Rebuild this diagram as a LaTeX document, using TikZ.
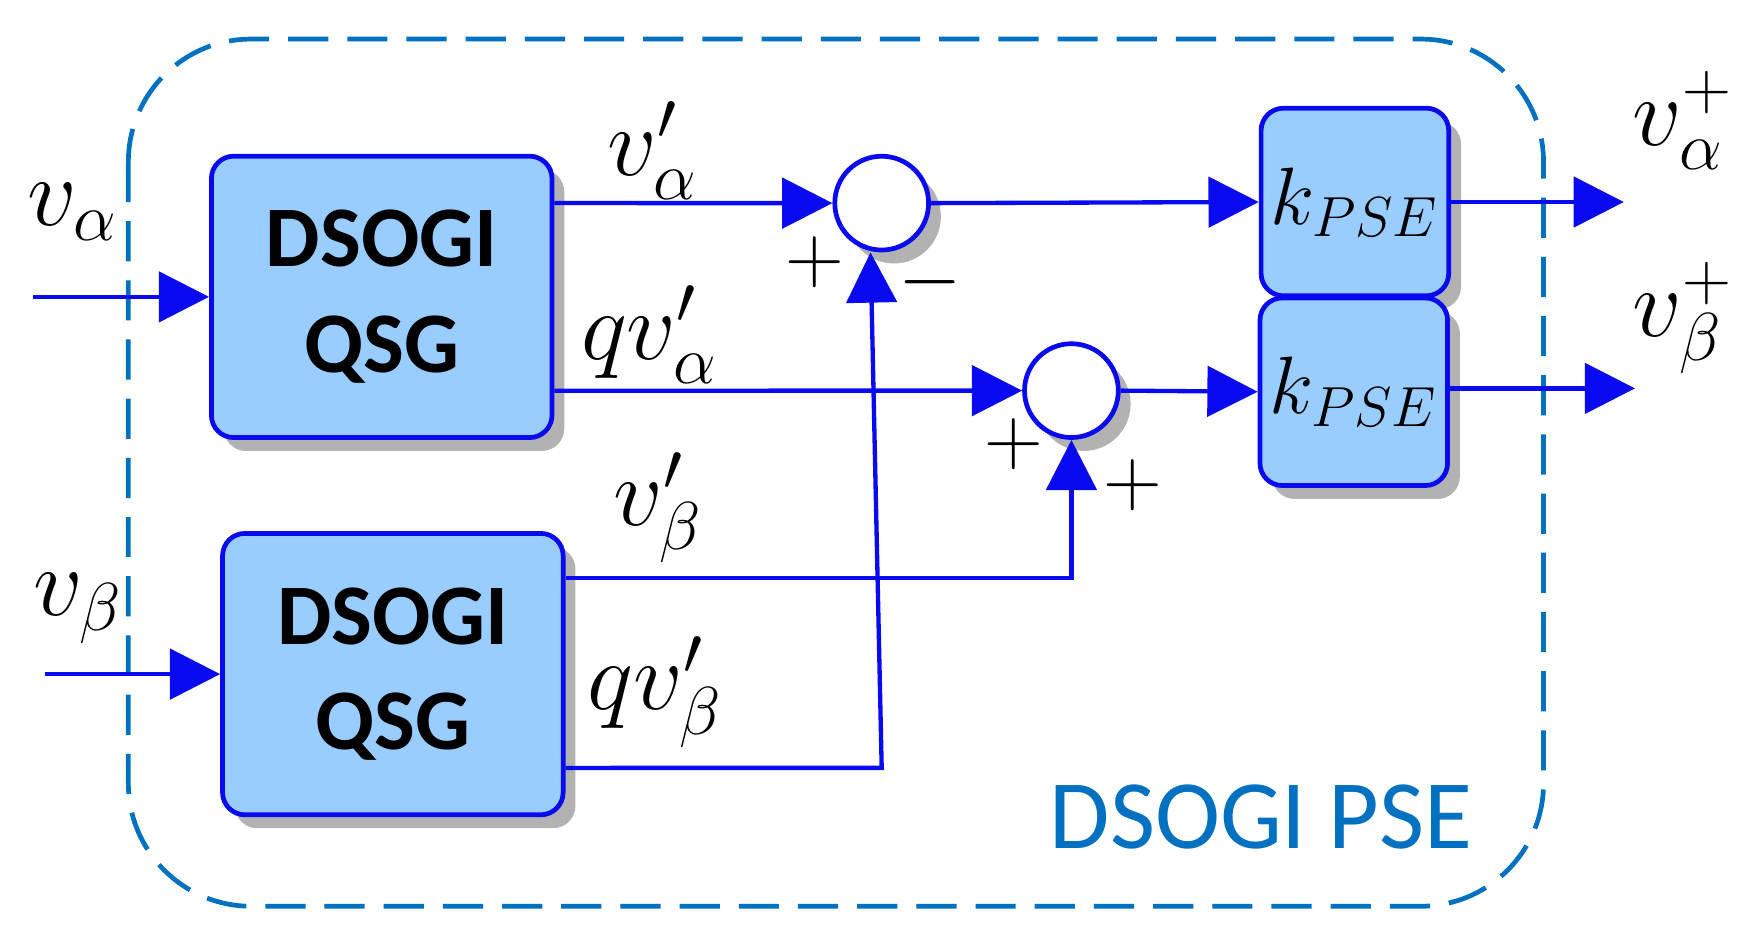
\documentclass[tikz,border=0pt]{standalone}
\usepackage{fontspec}
\setsansfont{Carlito}
\usetikzlibrary{arrows.meta,shadows}
\definecolor{wire}{RGB}{10,10,240}
\definecolor{boxfill}{RGB}{153,204,255}
\definecolor{frame}{RGB}{0,112,192}
\begin{document}
\begin{tikzpicture}[x=0.01cm,y=-0.01cm,
  sh/.style={drop shadow={shadow xshift=0.11cm,shadow yshift=-0.12cm,fill=black!30,opacity=1}},
  blk/.style={draw=wire,line width=1.2pt,fill=boxfill,rounded corners=0.2cm,sh,inner sep=0pt},
  qsg/.style={blk,minimum width=3.05cm,minimum height=2.52cm,align=center,font=\sffamily\bfseries\fontsize{22}{27}\selectfont},
  kb/.style={blk,minimum width=1.68cm,minimum height=1.68cm,font=\fontsize{21}{21}\selectfont},
  sum/.style={circle,draw=wire,line width=1.2pt,fill=white,minimum size=0.84cm,inner sep=0pt,sh},
  w/.style={draw=wire,line width=1.1pt,-{Triangle[length=0.45cm,width=0.45cm]}},
  lab/.style={font=\fontsize{26}{26}\selectfont,inner sep=1pt},
  pm/.style={font=\fontsize{22}{22}\selectfont}]
\useasboundingbox (0,0) rectangle (1568,845);
\draw[frame,line width=1.2pt,dash pattern=on 0.36cm off 0.17cm,rounded corners=1.1cm] (115,35) rectangle (1383,812);
\node[qsg] (b1) at (342,266) {DSOGI\\QSG};
\node[qsg] (b2) at (352,604) {DSOGI\\QSG};
\node[kb] (k1) at (1214,181) {$k_{PSE}$};
\node[kb] (k2) at (1213,351) {$k_{PSE}$};
\node[sum] (s1) at (790,182) {};
\node[sum] (s2) at (960,350) {};
\coordinate (i1) at (30,266);
\coordinate (i2) at (40,604);
\coordinate (o1) at (1455,181);
\coordinate (o2) at (1465,348);
\coordinate (c1) at (790,688);
\draw[w] (i1) -- (b1.west);
\draw[w] (i2) -- (b2.west);
\draw[w] ([yshift=0.84cm]b1.east) -- (s1.west);
\draw[w] ([yshift=-0.84cm]b1.east) -- (s2.west);
\draw[w] (s1.east) -- (k1.west);
\draw[w] (s2.east) -- (k2.west);
\draw[w] (k1.east) -- (o1);
\draw[w] (k2.east |- o2) -- (o2);
\draw[w] ([yshift=0.86cm]b2.east) -| (s2.south);
\draw[w] ([yshift=-0.84cm]b2.east) -- (c1) -- ([xshift=-0.1cm]s1.south);
\node[lab] (l1) at (65,190) {$v_\alpha$};
\node[lab] (l2) at (70,545) {$v_\beta$};
\node[lab] (l3) at (585,135) {$v'_\alpha$};
\node[lab] (l4) at (582,300) {$qv'_\alpha$};
\node[lab] (l5) at (590,455) {$v'_\beta$};
\node[lab] (l6) at (587,620) {$qv'_\beta$};
\node[lab] (l7) at (1508,108) {$v_\alpha^+$};
\node[lab] (l8) at (1508,285) {$v_\beta^+$};
\node[pm] (p1) at (730,235) {$+$};
\node[pm] (p2) at (833,253) {$-$};
\node[pm] (p3) at (908,398) {$+$};
\node[pm] (p4) at (1015,435) {$+$};
\node[text=frame,font=\sffamily\fontsize{25}{25}\selectfont] (t) at (1130,732) {DSOGI PSE};
\end{tikzpicture}
\end{document}
